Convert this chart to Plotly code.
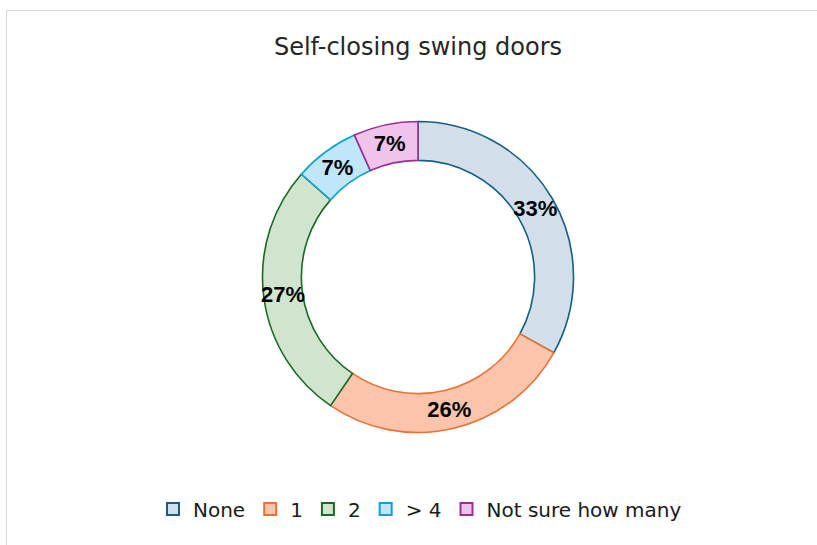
import plotly.graph_objects as go

categories = ["None", "1", "2", "> 4", "Not sure how many"]
values = [33.1, 26.4, 27.0, 6.8, 6.7]   # % of responses
fill_colors = ["#d3deeb", "#fcc4ab", "#d1e4cd", "#c0e7f9", "#f0c3ea"]
line_colors = ["#156082", "#E97132", "#196B24", "#0F9ED5", "#A02B93"]

W, H = 817, 545
CX, CY, R = 418, 277, 155.5        # ring centre and outer radius (px)
HOLE = 0.75
R_TXT = 164                        # radius of the invisible label ring (px)
LABEL_FONT = "Liberation Sans"
TEXT_FONT = "DejaVu Sans"


def dom(r):
    return dict(x=[(CX - r) / W, (CX + r) / W], y=[1 - (CY + r) / H, 1 - (CY - r) / H])


ring = go.Pie(
    labels=categories,
    values=values,
    sort=False,
    direction="clockwise",
    rotation=0,
    hole=HOLE,
    marker=dict(colors=fill_colors, line=dict(color=line_colors, width=1.6)),
    textinfo="none",
    domain=dom(R),
    showlegend=True,
    hoverinfo="label+percent",
)

# transparent twin ring whose wider band lets plotly centre the labels at
# the mid-angle of each slice, on the middle of the visible ring
r_mid = R * (1 + HOLE) / 2
label_hole = 1 - 2 * (1 - r_mid / R_TXT)
labels_trace = go.Pie(
    labels=categories,
    values=values,
    sort=False,
    direction="clockwise",
    rotation=0,
    hole=label_hole,
    marker=dict(colors=["rgba(0,0,0,0)"] * len(values), line=dict(width=0)),
    texttemplate="%{percent:.0%}",
    textposition="inside",
    insidetextorientation="horizontal",
    textfont=dict(family=LABEL_FONT, size=22, color="#000000", weight="bold"),
    domain=dom(R_TXT),
    showlegend=False,
    hoverinfo="skip",
)

fig = go.Figure([ring, labels_trace])

fig.update_layout(
    width=W,
    height=H,
    margin=dict(l=0, r=0, t=0, b=0),
    paper_bgcolor="white",
    plot_bgcolor="white",
    title=dict(
        text="Self-closing swing doors",
        x=418 / W,
        xanchor="center",
        y=1 - 47 / H,
        yanchor="middle",
        font=dict(family=TEXT_FONT, size=24, color="#262626"),
    ),
    legend=dict(
        orientation="h",
        x=420 / W,
        xanchor="center",
        y=1 - 509 / H,
        yanchor="middle",
        font=dict(family=TEXT_FONT, size=20, color="#1a1a1a"),
        itemsizing="constant",
        traceorder="normal",
    ),
    shapes=[
        dict(
            type="rect",
            xref="paper",
            yref="paper",
            x0=6.5 / W,
            y0=-0.05,
            x1=1.05,
            y1=1 - 10.5 / H,
            line=dict(color="#d9d9d9", width=1),
            fillcolor="rgba(0,0,0,0)",
            layer="below",
        )
    ],
)

fig.write_html("out.html")
